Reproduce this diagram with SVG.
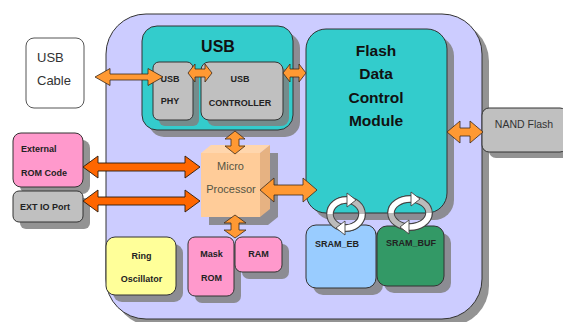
<svg xmlns="http://www.w3.org/2000/svg" width="563" height="322" viewBox="0 0 563 322">
<style>
.sh{fill:#808080;opacity:.85}
.bx{stroke:#333;stroke-width:1}
.t{font-family:"Liberation Sans",Arial,sans-serif}
.b9{font-size:9px;font-weight:bold;fill:#222;text-anchor:middle}
.ar{fill:#FF9933;stroke:#3a2a1a;stroke-width:.8;stroke-linejoin:round}
.ar2{fill:#FF6600;stroke:#2a1a0a;stroke-width:.9;stroke-linejoin:round}
.rg{fill:none;stroke:#444;stroke-width:7.5}
.rgb{fill:none;stroke:#BBBBBB;stroke-width:5.5}
.rgw{fill:none;stroke:#FFFFFF;stroke-width:5.5}
.hd{fill:#FFFFFF;stroke:#444;stroke-width:.9;stroke-linejoin:round}
</style>
<rect width="563" height="322" fill="#FFFFFF"/>

<g id="main">
<rect class="sh" x="113" y="21" width="376" height="305" rx="40"/>
<rect class="bx" x="106" y="14" width="376" height="305" rx="40" fill="#CCCCFF"/>
</g>

<g id="usb-cable">
<rect x="26" y="38" width="58" height="70" rx="8" fill="#FFFFFF" stroke="#555" stroke-width="1"/>
<text class="t" x="37" y="62" font-size="13" fill="#333">USB</text>
<text class="t" x="37" y="85" font-size="13" fill="#333">Cable</text>
</g>

<g id="usb">
<rect class="sh" x="149" y="33" width="151" height="104" rx="15"/>
<rect class="bx" x="142" y="26" width="151" height="104" rx="15" fill="#33CCCC"/>
<text class="t" x="218" y="52" font-size="16" font-weight="bold" fill="#111" text-anchor="middle">USB</text>
</g>

<g id="usb-phy">
<rect class="sh" x="159" y="68" width="40" height="58" rx="6"/>
<rect class="bx" x="153" y="62" width="40" height="58" rx="6" fill="#C0C0C0"/>
<text class="t b9" x="170" y="82">USB</text>
<text class="t b9" x="170" y="104">PHY</text>
</g>

<g id="usb-controller">
<rect class="sh" x="207" y="68" width="82" height="58" rx="8"/>
<rect class="bx" x="201" y="62" width="82" height="58" rx="8" fill="#C0C0C0"/>
<text class="t b9" x="240" y="82">USB</text>
<text class="t b9" x="240" y="106">CONTROLLER</text>
</g>

<g id="flash-data-control">
<rect class="sh" x="313" y="36" width="141" height="184" rx="20"/>
<rect class="bx" x="306" y="29" width="141" height="184" rx="20" fill="#33CCCC"/>
<g class="t" font-size="15.5" font-weight="bold" fill="#111" text-anchor="middle">
<text x="376" y="56">Flash</text>
<text x="376" y="79">Data</text>
<text x="376" y="103">Control</text>
<text x="376" y="126">Module</text>
</g>
</g>

<g id="nand-flash">
<rect class="sh" x="489" y="114" width="85" height="44" rx="7"/>
<rect class="bx" x="482" y="108" width="85" height="44" rx="7" fill="#C0C0C0"/>
<text class="t" x="524" y="128" font-size="10.5" fill="#333" text-anchor="middle">NAND Flash</text>
</g>

<g id="external-rom">
<rect class="sh" x="20" y="140" width="70" height="54" rx="8"/>
<rect class="bx" x="13" y="133" width="70" height="54" rx="8" fill="#FF99CC"/>
<text class="t" x="21" y="152" font-size="9" font-weight="bold" fill="#222">External</text>
<text class="t" x="21" y="176" font-size="9" font-weight="bold" fill="#222">ROM Code</text>
</g>

<g id="ext-io">
<rect class="sh" x="20" y="198" width="70" height="31" rx="6"/>
<rect class="bx" x="13" y="191" width="70" height="31" rx="6" fill="#C0C0C0"/>
<text class="t" x="20" y="210" font-size="9" font-weight="bold" fill="#222">EXT IO Port</text>
</g>

<g id="micro-processor">
<polygon class="sh" points="209,161 219,153 278,153 278,217 268,225 209,225"/>
<rect x="201" y="153" width="59" height="64" fill="#FFCC99"/>
<polygon points="201,153 211,145 270,145 260,153" fill="#FFD6AD"/>
<polygon points="260,153 270,145 270,209 260,217" fill="#E6B282"/>
<text class="t" x="230.5" y="170" font-size="11" fill="#554" text-anchor="middle">Micro</text>
<text class="t" x="231" y="193" font-size="11" fill="#554" text-anchor="middle">Processor</text>
</g>

<g id="ring-oscillator">
<rect class="sh" x="113" y="244" width="70" height="58" rx="9"/>
<rect class="bx" x="106" y="237" width="70" height="58" rx="9" fill="#FFFF99"/>
<text class="t b9" x="141.5" y="259">Ring</text>
<text class="t b9" x="141.5" y="282">Oscillator</text>
</g>

<g id="mask-rom">
<rect class="sh" x="195" y="244" width="46" height="59" rx="7"/>
<rect class="bx" x="188" y="237" width="46" height="59" rx="7" fill="#FF99CC"/>
<text class="t b9" x="211.5" y="257">Mask</text>
<text class="t b9" x="211.5" y="281">ROM</text>
</g>

<g id="ram">
<rect class="sh" x="242" y="244" width="47" height="35" rx="7"/>
<rect class="bx" x="235" y="237" width="47" height="35" rx="7" fill="#FF99CC"/>
<text class="t b9" x="258.5" y="257">RAM</text>
</g>

<g id="sram-eb">
<rect class="sh" x="313" y="232" width="70" height="63" rx="10"/>
<rect class="bx" x="306" y="225" width="70" height="63" rx="10" fill="#99CCFF"/>
<text class="t b9" x="337" y="247">SRAM_EB</text>
</g>

<g id="sram-buf">
<rect class="sh" x="384" y="233" width="67" height="60" rx="10"/>
<rect class="bx" x="377" y="226" width="67" height="60" rx="10" fill="#339966"/>
<text class="t b9" x="411" y="246">SRAM_BUF</text>
</g>

<g id="connectors">
<polygon class="ar" points="95,77 110,68.5 110,74 148,74 148,68.5 163,77 148,85.5 148,80 110,80 110,85.5"/>
<polygon class="ar" points="188,73 195,64 195,69 205,69 205,64 212,73 205,82 205,77 195,77 195,82"/>
<polygon class="ar" points="283,73 290,64 290,69 299,69 299,64 306,73 299,82 299,77 290,77 290,82"/>
<polygon class="ar" points="235,131 245,139 239,139 239,146 245,146 235,154 225,146 231,146 231,139 225,139"/>
<polygon class="ar" points="260,190 274,178 274,185 303,185 303,178 317,190 303,202 303,195 274,195 274,202"/>
<polygon class="ar" points="447,132 460,121 460,128 470,128 470,121 483,132 470,143 470,136 460,136 460,143"/>
<polygon class="ar" points="235,215 246,223 239,223 239,230 246,230 235,238 224,230 231,230 231,223 224,223"/>
<polygon class="ar2" points="83,167 98,156 98,163 185,163 185,156 200,167 185,178 185,171 98,171 98,178"/>
<polygon class="ar2" points="83,201 98,190 98,197 185,197 185,190 200,201 185,212 185,205 98,205 98,212"/>

<g id="cycle-eb" transform="translate(346,214)">
<ellipse class="rg" rx="16" ry="14"/>
<ellipse class="rgb" rx="16" ry="14"/>
<path class="rg" d="M -16,0 A 16 14 0 0 1 2,-13.9"/>
<path class="rgw" d="M -16,0 A 16 14 0 0 1 2,-13.9"/>
<polygon class="hd" points="1,-21 10,-14 1,-7"/>
<path class="rg" d="M 16,0 A 16 14 0 0 1 -2,13.9"/>
<path class="rgw" d="M 16,0 A 16 14 0 0 1 -2,13.9"/>
<polygon class="hd" points="-1,21 -10,14 -1,7"/>
</g>
<g id="cycle-buf" transform="translate(410,213)">
<ellipse class="rg" rx="19" ry="14"/>
<ellipse class="rgb" rx="19" ry="14"/>
<path class="rg" d="M -19,0 A 19 14 0 0 1 2,-13.9"/>
<path class="rgw" d="M -19,0 A 19 14 0 0 1 2,-13.9"/>
<polygon class="hd" points="1,-21 10,-14 1,-7"/>
<path class="rg" d="M 19,0 A 19 14 0 0 1 -2,13.9"/>
<path class="rgw" d="M 19,0 A 19 14 0 0 1 -2,13.9"/>
<polygon class="hd" points="-1,21 -10,14 -1,7"/>
</g>
</g>
</svg>
